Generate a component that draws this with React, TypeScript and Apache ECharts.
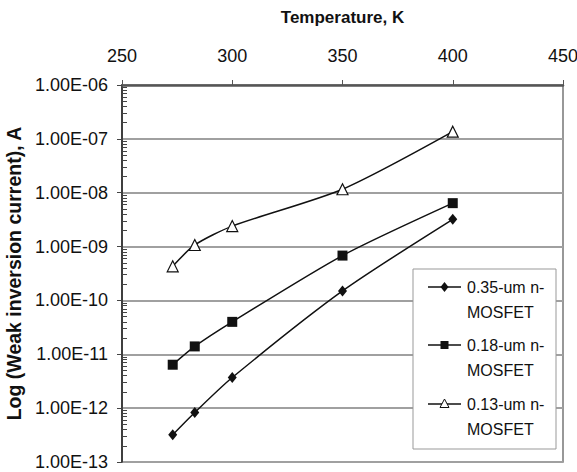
import React, { useEffect, useRef } from "react";
import * as echarts from "echarts";

const TEMPS = [273, 283, 300, 350, 400];
const I_035 = [3.2e-13, 8.3e-13, 3.7e-12, 1.5e-10, 3.2e-9];
const I_018 = [6.4e-12, 1.4e-11, 4.0e-11, 6.8e-10, 6.4e-9];
const I_013 = [4.3e-10, 1.07e-9, 2.4e-9, 1.16e-8, 1.36e-7];
const SERIES_NAMES = ["0.35-um n-\nMOSFET", "0.18-um n-\nMOSFET", "0.13-um n-\nMOSFET"];
const X_TICKS = [250, 300, 350, 400, 450];
const Y_DECADES = [-13, -6];

const FONT = "'Liberation Sans', Arial, sans-serif";

function fmtE(v: number): string {
  const e = Math.round(Math.log10(v));
  const s = String(Math.abs(e)).padStart(2, "0");
  return `1.00E${e < 0 ? "-" : "+"}${s}`;
}

export default function App() {
  const ref = useRef<HTMLDivElement>(null);
  useEffect(() => {
    if (!ref.current) return;
    const chart = echarts.init(ref.current, undefined, { renderer: "svg" });
    const toData = (arr: number[]) => TEMPS.map((t, i) => [t, arr[i]]);
    const lineStyle = { color: "#111", width: 1.5 };

    const legendItems = [
      { y: 287, sym: "diamond" },
      { y: 345, sym: "square" },
      { y: 404, sym: "triangle" },
    ];
    const Z = 100;
    const legendChildren: any[] = [
      {
        type: "rect",
        z: Z,
        shape: { x: 413, y: 269, width: 143, height: 180 },
        style: { fill: "#fff", stroke: "#999", lineWidth: 1 },
      },
    ];
    legendItems.forEach((it, idx) => {
      legendChildren.push({
        type: "line",
        z: Z + 1,
        shape: { x1: 428, y1: it.y, x2: 461, y2: it.y },
        style: { stroke: "#111", lineWidth: 1.5 },
      });
      const cx = 444.5;
      if (it.sym === "diamond") {
        legendChildren.push({
          type: "polygon",
          z: Z + 2,
          shape: { points: [[cx, it.y - 5], [cx + 4, it.y], [cx, it.y + 5], [cx - 4, it.y]] },
          style: { fill: "#111" },
        });
      } else if (it.sym === "square") {
        legendChildren.push({
          type: "rect",
          z: Z + 2,
          shape: { x: cx - 4, y: it.y - 4, width: 8, height: 8 },
          style: { fill: "#111" },
        });
      } else {
        legendChildren.push({
          type: "polygon",
          z: Z + 2,
          shape: { points: [[cx, it.y - 5], [cx + 4.5, it.y + 3.5], [cx - 4.5, it.y + 3.5]] },
          style: { fill: "#fff", stroke: "#111", lineWidth: 1 },
        });
      }
      legendChildren.push({
        type: "text",
        z: Z + 2,
        x: 467,
        y: it.y - 12.5,
        style: {
          text: SERIES_NAMES[idx],
          fill: "#111",
          font: `16px ${FONT}`,
          lineHeight: 25,
          verticalAlign: "top",
          align: "left",
        },
      });
    });

    chart.setOption({
      animation: false,
      backgroundColor: "#fff",
      textStyle: { fontFamily: FONT },
      grid: {
        left: 122,
        top: 85,
        right: 14,
        bottom: 10,
        show: true,
        borderColor: "#777",
        borderWidth: 1.5,
        backgroundColor: "#fff",
        containLabel: false,
        outerBoundsMode: "none",
      },
      xAxis: {
        type: "value",
        position: "top",
        min: X_TICKS[0],
        max: X_TICKS[X_TICKS.length - 1],
        interval: 50,
        name: "Temperature, K",
        nameLocation: "middle",
        nameGap: 59,
        nameTextStyle: { fontSize: 17, fontWeight: "bold", color: "#111", fontFamily: FONT },
        axisLine: { show: true, lineStyle: { color: "#555", width: 2.5 } },
        axisTick: { show: true, inside: false, length: 5, lineStyle: { color: "#555", width: 1 } },
        axisLabel: { fontSize: 18, color: "#111", margin: 20, fontFamily: FONT },
        splitLine: { show: false },
      },
      yAxis: [
        {
          type: "log",
          logBase: 10,
          min: Math.pow(10, Y_DECADES[0]),
          max: Math.pow(10, Y_DECADES[1]),
          interval: 1,
          name: "Log (Weak inversion current), A",
          nameLocation: "middle",
          nameGap: 92,
          nameTextStyle: { fontSize: 19.5, fontWeight: "bold", color: "#111", fontFamily: FONT },
          axisLine: { show: true, lineStyle: { color: "#222", width: 1.5 } },
          axisTick: { show: true, inside: false, length: 5, lineStyle: { color: "#444" } },
          axisLabel: { fontSize: 18, color: "#111", margin: 14, formatter: (v: number) => fmtE(v), fontFamily: FONT },
          splitLine: { show: true, lineStyle: { color: "#a0a0a0", width: 1.8 } },
        },
        {
          type: "log",
          logBase: 10,
          min: Math.pow(10, Y_DECADES[0]),
          max: Math.pow(10, Y_DECADES[1]),
          interval: 1,
          position: "left",
          offset: 0,
          axisLine: { show: false },
          axisLabel: { show: false },
          splitLine: { show: false },
          axisTick: { show: true, inside: true, length: 1, lineStyle: { color: "#444", width: 0 } },
          minorTick: { show: true, splitNumber: 9, length: 5, lineStyle: { color: "#444", width: 1 } },
        },
      ],
      series: [
        {
          name: SERIES_NAMES[0],
          type: "line",
          data: toData(I_035),
          smooth: 0.25,
          symbol: "diamond",
          symbolSize: [9, 11],
          lineStyle,
          itemStyle: { color: "#111" },
        },
        {
          name: SERIES_NAMES[1],
          type: "line",
          data: toData(I_018),
          smooth: 0.25,
          symbol: "rect",
          symbolSize: 10,
          lineStyle,
          itemStyle: { color: "#111" },
        },
        {
          name: SERIES_NAMES[2],
          type: "line",
          data: toData(I_013),
          smooth: 0.25,
          symbol: "triangle",
          symbolSize: 11,
          lineStyle,
          itemStyle: { color: "#fff", borderColor: "#111", borderWidth: 1.2 },
        },
      ],
      graphic: legendChildren,
    });
    return () => chart.dispose();
  }, []);
  return (
    <div
      ref={ref}
      style={{ position: "fixed", left: 0, top: 0, width: 577, height: 472 }}
    />
  );
}
